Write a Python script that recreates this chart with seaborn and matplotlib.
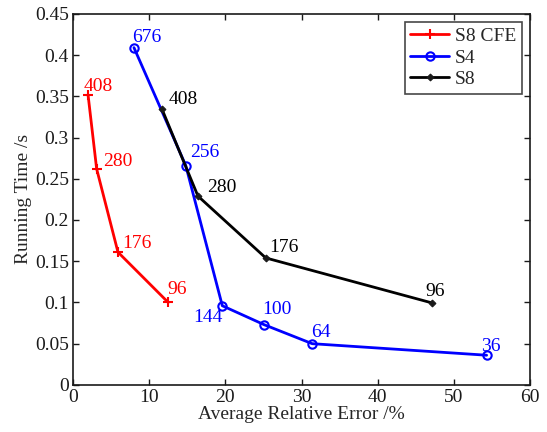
import matplotlib
matplotlib.use("Agg")
import matplotlib.pyplot as plt
import seaborn as sns
import pandas as pd

sns.set_theme(style="ticks")
plt.rcParams['font.family'] = ['Liberation Serif', 'DejaVu Serif']
plt.rcParams['mathtext.fontset'] = 'stix'

series_names = ["S8 CFE", "S4", "S8"]
cfe_x = [1.97, 3.1, 5.9, 12.5]
cfe_y = [0.352, 0.262, 0.161, 0.100]
cfe_lab = ["408", "280", "176", "96"]
s4_x = [8.0, 14.8, 19.6, 25.1, 31.4, 54.3]
s4_y = [0.409, 0.266, 0.096, 0.073, 0.050, 0.036]
s4_lab = ["676", "256", "144", "100", "64", "36"]
s8_x = [11.7, 16.4, 25.3, 47.1]
s8_y = [0.334, 0.229, 0.154, 0.0995]
s8_lab = ["408", "280", "176", "96"]

colors = {"S8 CFE": "#ff0000", "S4": "#0000ff", "S8": "#000000"}

fig = plt.figure(figsize=(5.47, 4.32), dpi=100)
ax = fig.add_axes([0.1335, 0.109, 0.8355, 0.859])

data = {"S8 CFE": (cfe_x, cfe_y, cfe_lab), "S4": (s4_x, s4_y, s4_lab), "S8": (s8_x, s8_y, s8_lab)}
# (dx, dy, ha) in pixels
offsets = {
    "S8 CFE": [(-4, 4, "left"), (6, 3, "left"), (4, 4, "left"), (-1, 8, "left")],
    "S4": [(-2, 6, "left"), (4, 9, "left"), (0, -16, "right"), (-2, 11, "left"), (-1, 7, "left"), (-6, 4, "left")],
    "S8": [(6, 5, "left"), (9, 4, "left"), (3, 6, "left"), (-6, 7, "left")],
}
for name in series_names:
    xs, ys, labs = data[name]
    df = pd.DataFrame({"x": xs, "y": ys})
    if name == "S4":
        mk = dict(marker="o", markersize=6, markerfacecolor="none", markeredgecolor=colors[name], markeredgewidth=1.5)
    elif name == "S8 CFE":
        mk = dict(marker="+", markersize=7, markeredgewidth=1.5, markeredgecolor=colors[name])
    else:
        mk = dict(marker="D", markersize=3.5, markerfacecolor="k", markeredgecolor="k")
    sns.lineplot(data=df, x="x", y="y", sort=False, color=colors[name], lw=2, label=name, ax=ax, **mk)
    for xi, yi, lab, (dx, dy, ha) in zip(xs, ys, labs, offsets[name]):
        ax.annotate(lab, (xi, yi), xytext=(dx, dy), textcoords="offset pixels",
                    color=colors[name], fontsize=14, ha=ha, va="baseline")

ax.set_xlim(0, 60)
ax.set_ylim(0, 0.45)
ax.set_xticks([0, 10, 20, 30, 40, 50, 60])
ax.set_yticks([0, 0.05, 0.1, 0.15, 0.2, 0.25, 0.3, 0.35, 0.4, 0.45])
ax.set_yticklabels(["0", "0.05", "0.1", "0.15", "0.2", "0.25", "0.3", "0.35", "0.4", "0.45"])
ax.tick_params(direction="in", top=True, right=True, labelsize=14, length=4, width=1, colors="k", pad=3)
for s in ax.spines.values():
    s.set_color("k")
    s.set_linewidth(1.2)
ax.set_xlabel("Average Relative Error /%", fontsize=14, labelpad=0)
ax.set_ylabel("Running Time /s", fontsize=14, labelpad=2)
leg = ax.legend(loc="upper right", fontsize=14, frameon=True, fancybox=False, edgecolor="k",
                borderpad=0.3, labelspacing=0.2, handlelength=2.0, handletextpad=0.3, borderaxespad=0.4)
leg.get_frame().set_linewidth(1.2)
fig.savefig("out.png", dpi=100)
